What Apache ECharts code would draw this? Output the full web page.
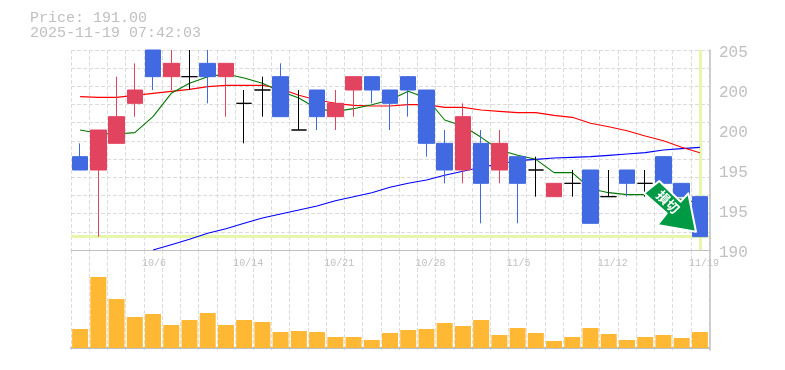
<!DOCTYPE html>
<html>
<head>
<meta charset="utf-8">
<style>html,body{margin:0;padding:0;background:#fff}#c{width:785px;height:370px}</style>
<script src="https://cdn.jsdelivr.net/npm/echarts@6/dist/echarts.min.js"></script>
</head>
<body>
<div id="c"></div>
<script>
const dates = ['9/30','10/1','10/2','10/3','10/6','10/7','10/8','10/9','10/10','10/14','10/15','10/16','10/17','10/20','10/21','10/22','10/23','10/24','10/27','10/28','10/29','10/30','10/31','11/4','11/5','11/6','11/7','11/10','11/11','11/12','11/13','11/14','11/17','11/18','11/19'];
const dateTicks = ['10/6','10/14','10/21','10/28','11/5','11/12','11/19'];
const priceTicks = [190,193,196,199,202,205];
const priceTickLabels = ['190','195','195','200','200','205'];
const opens  = [197,196,198,201,205,203,203,204,203,201,202,203,199,202,200,202,203,202,203,202,198,196,198,196,197,196,194,195,196,194,196,195,197,195,194];
const closes = [196,199,200,202,203,204,203,203,204,201,202,200,199,200,201,203,202,201,202,198,196,200,195,198,195,196,195,195,192,194,195,195,195,194,191];
const lows   = [196,191,198,200,202,202,202,201,200,198,200,200,199,199,199,200,201,199,200,197,195,195,192,195,192,194,194,194,192,194,194,194,195,194,191];
const highs  = [198,199,203,204,205,205,205,205,204,202,203,204,202,202,202,203,203,202,203,202,199,201,199,199,197,197,195,196,196,196,196,196,197,195,194];
const ma5  = [199,198.75,198.7,198.8,200,201.75,202.5,203,203.2,202.9,202.5,201.9,201.4,200.6,200.4,200.6,200.9,201.25,201.9,201.4,199.75,199.3,198.45,197.5,197.1,196.8,195.8,195.8,194.6,194.3,194.15,194.15,194,193.8,193.5];
const ma25 = [201.5,201.45,201.45,201.6,201.75,201.9,202.05,202.25,202.35,202.35,202.35,202.1,201.6,201.25,201,200.85,200.8,200.8,200.9,200.9,200.7,200.7,200.5,200.4,200.3,200.3,200.1,199.95,199.5,199.25,198.95,198.55,198.2,197.7,197.3];
const ma75 = [null,null,null,null,190,190.4,190.8,191.25,191.6,192,192.4,192.7,193,193.3,193.7,194,194.3,194.7,195,195.25,195.6,195.9,196.2,196.45,196.7,196.8,196.9,196.95,197,197.1,197.2,197.3,197.5,197.6,197.7];
const volumes = [19,71,49,31,34,23,28,35,23,28,26,16,17,16,11,11,8,15,18,19,25,22,28,13,20,15,7,11,20,14,8,11,13,10,16];
const lastPrice = 191;
const lastLabel = '11/19';
const stamp = '2025-11-19 07:42:03';
const badgeText = '損切';

const GREY = '#c0c0c0', GRID = '#dcdcdc', MONO = '"Liberation Mono", monospace';
const candles = dates.map((_, i) => [opens[i], closes[i], lows[i], highs[i]]);
const dashed = { lineStyle: { color: GRID, width: 1, type: [4, 2] } };
const line = (name, data, color) => ({
  name, type: 'line', data, xAxisIndex: 0, yAxisIndex: 0, symbol: 'none', z: 3,
  connectNulls: false, lineStyle: { color, width: 1.1 }, silent: true
});
const chart = echarts.init(document.getElementById('c'), null, { renderer: 'canvas' });
chart.setOption({
  animation: false,
  backgroundColor: '#fff',
  title: {
    text: 'Price: ' + lastPrice.toFixed(2) + '\n' + stamp,
    left: 30, top: 11, padding: 0,
    textStyle: { fontFamily: MONO, fontSize: 15, lineHeight: 15, fontWeight: 'normal', color: GREY }
  },
  grid: [
    { left: 71, width: 638, top: 50, height: 200 },
    { left: 71, width: 638, top: 250, height: 100 }
  ],
  xAxis: [
    { type: 'category', gridIndex: 0, data: dates, boundaryGap: true,
      axisLine: { lineStyle: { color: GREY, width: 1 } }, axisTick: { show: false },
      splitLine: { show: true, interval: 0, ...dashed },
      axisLabel: { show: true, interval: (i, v) => dateTicks.includes(v), align: 'left', padding: [0, 0, 0, -11],
        margin: 8, fontFamily: MONO, fontSize: 10, color: GREY, hideOverlap: false } },
    { type: 'category', gridIndex: 1, data: dates, boundaryGap: true,
      axisLine: { lineStyle: { color: GREY, width: 2 } }, axisTick: { show: false },
      splitLine: { show: true, interval: 0, ...dashed }, axisLabel: { show: false } }
  ],
  yAxis: [
    { type: 'value', gridIndex: 0, position: 'right', offset: 1, min: 190, max: 205,
      axisLine: { show: true, lineStyle: { color: GREY, width: 1.5 } }, axisTick: { show: false }, splitLine: { show: false },
      axisLabel: { customValues: priceTicks, formatter: v => priceTickLabels[priceTicks.indexOf(v)], margin: 9,
        verticalAlign: 'top', padding: [-5, 0, 0, 0], fontFamily: MONO, fontSize: 16, color: GREY } },
    { type: 'value', gridIndex: 1, position: 'right', offset: 1, min: -2, max: 98,
      axisLine: { show: true, lineStyle: { color: GREY, width: 1.5 } }, axisTick: { show: false },
      splitLine: { show: false }, axisLabel: { show: false } },
    { type: 'value', gridIndex: 0, min: 0, max: 11, interval: 1, axisLine: { show: false }, axisTick: { show: false },
      axisLabel: { show: false }, splitLine: { show: true, ...dashed } }
  ],
  series: [
    { name: 'guide', type: 'line', data: [], xAxisIndex: 0, yAxisIndex: 0, z: 1, silent: true,
      markLine: { z: 1, silent: true, symbol: 'none', label: { show: false }, animation: false,
        lineStyle: { color: '#e6f7aa', width: 3, type: 'solid' },
        data: [{ yAxis: lastPrice }, { xAxis: lastLabel }] } },
    line('ma75', ma75, '#0000ff'),
    line('ma25', ma25, '#ff0000'),
    line('ma5', ma5, '#007700'),
    { name: 'price', type: 'candlestick', data: candles, xAxisIndex: 0, yAxisIndex: 0, barWidth: 16, z: 4, silent: true,
      itemStyle: { color: '#e2435f', color0: '#4169e1', borderColor: '#e2435f', borderColor0: '#4169e1', borderColorDoji: '#000', borderWidth: 1 } },
    { name: 'volume', type: 'bar', data: volumes, xAxisIndex: 1, yAxisIndex: 1, barWidth: 16, z: 4, silent: true,
      itemStyle: { color: '#ffb833' } }
  ],
  graphic: [
    { type: 'polygon', z: 100,
      shape: { points: [[644,193.3],[659.3,181],[680.7,201.7],[688.3,193.3],[696,231.7],[657.3,225],[666.7,213.3]] },
      style: { fill: '#009944', stroke: '#fff', lineWidth: 2, lineJoin: 'round' } },
    { type: 'text', z: 101, x: 668, y: 202, rotation: -Math.PI / 4, silent: true,
      style: { text: badgeText, fill: '#fff', font: 'bold 13px "Noto Sans CJK JP"', align: 'center', verticalAlign: 'middle' } }
  ]
});
</script>
</body>
</html>
